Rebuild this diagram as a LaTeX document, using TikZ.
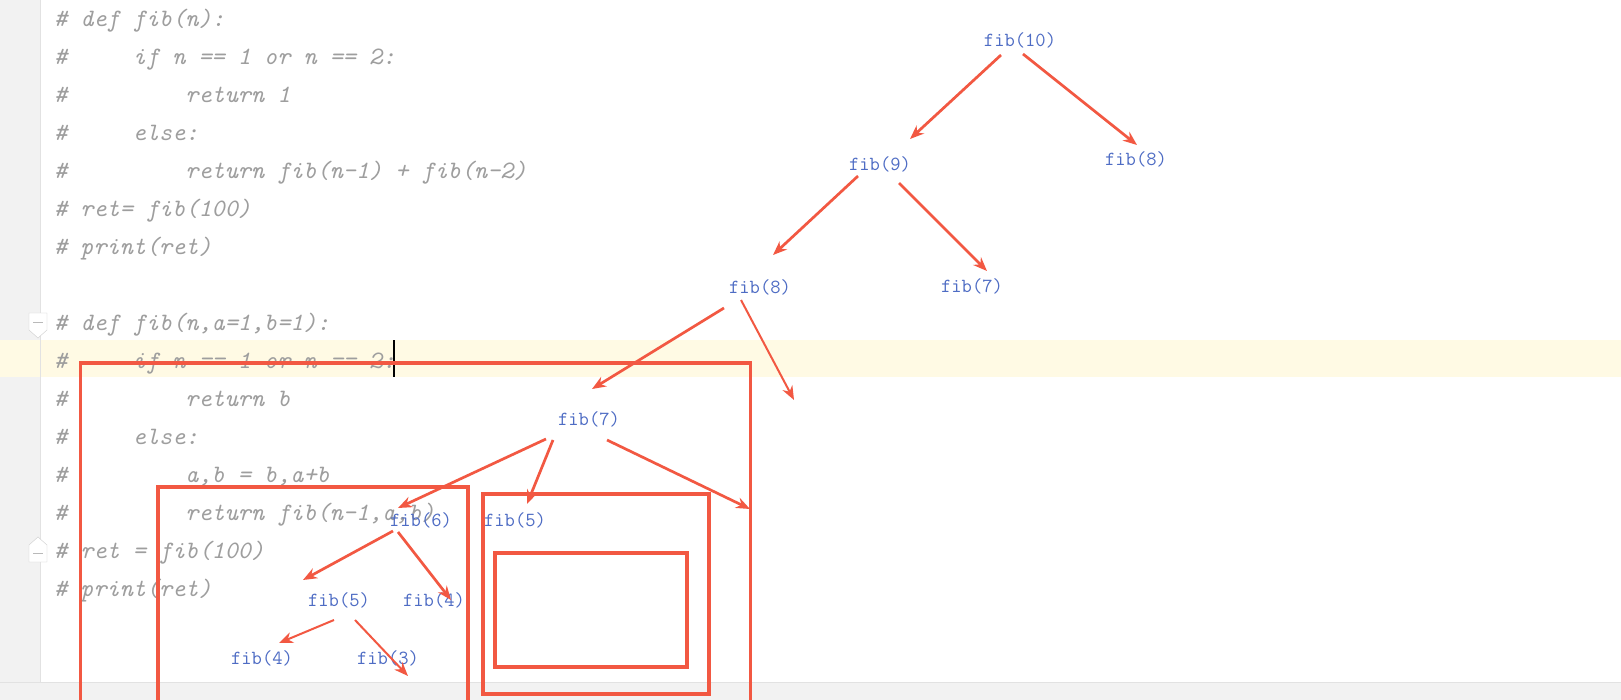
\documentclass[tikz,border=0pt]{standalone}
\usepackage{fontspec}
\usetikzlibrary{arrows.meta}
\definecolor{pen}{RGB}{242,88,66}
\definecolor{lab}{RGB}{78,108,196}
\definecolor{codegray}{RGB}{158,158,158}
\definecolor{gutter}{RGB}{242,242,242}
\definecolor{gutterline}{RGB}{226,226,226}
\definecolor{band}{RGB}{255,250,228}

\begin{document}
\begin{tikzpicture}[x=1pt,y=-1pt,
  code/.style={anchor=mid west,inner sep=0pt,text=codegray,
    font=\fontsize{25}{30}\selectfont\ttfamily\itshape},
  fib node/.style={inner sep=2pt,text=lab,font=\fontsize{20}{23}\selectfont\ttfamily},
  arr/.style={draw=pen,line width=2.7pt,-{Stealth[length=14pt,width=11pt]}},
  thin arr/.style={arr,line width=2pt},
  frame/.style={draw=pen,line width=3.5pt}]

  % editor background
  \useasboundingbox (0,0) rectangle (1621,700);
  \clip (0,0) rectangle (1621,700);
  \fill[white] (0,0) rectangle (1621,700);
  \fill[gutter] (0,0) rectangle (40,682);
  \fill[band] (0,340) rectangle (1621,377);
  \draw[gutterline,line width=1pt] (40,0) -- (40,682);
  \fill[gutter] (0,682) rectangle (1621,700);
  \draw[gutterline] (0,682) -- (1621,682);

  % fold markers
  \draw[gray!40,fill=white] (29,313) -- (47,313) -- (47,330) -- (38,338) -- (29,330) -- cycle;
  \draw[gray!55] (33,322) -- (43,322);
  \draw[gray!40,fill=white] (29,562) -- (47,562) -- (47,545) -- (38,537) -- (29,545) -- cycle;
  \draw[gray!55] (33,553) -- (43,553);

  % code
  \foreach \l in {1,2,3,4,5,6,7,9,10,11,12,13,14,15,16}
    \node[code] (h\l) at (54,{24.5+38*(\l-1)}) {\#};
  \foreach \l/\c/\t in {1/2/{def fib(n):}, 2/6/{if n == 1 or n == 2:},
      3/10/{return 1}, 4/6/{else:}, 5/10/{return fib(n-1) + fib(n-2)},
      6/2/{ret= fib(100)}, 7/2/{print(ret)},
      9/2/{def fib(n,a=1,b=1):}, 10/6/{if n == 1 or n == 2:},
      11/10/{return b}, 12/6/{else:}, 13/10/{a,b = b,a+b},
      14/10/{return fib(n-1,a,b)}, 15/2/{ret = fib(100)}, 16/2/{print(ret)}}
    \node[code] (c\l) at ({54+13.125*\c},{24.5+38*(\l-1)}) {\t};

  % cursor
  \draw[black,line width=2pt] (394,340) -- (394,377);

  % call tree
  \node[fib node] (n10) at (1020,40) {fib(10)};
  \node[fib node] (n9) at (880,164) {fib(9)};
  \node[fib node] (n8r) at (1136,159) {fib(8)};
  \node[fib node] (n8) at (760,287) {fib(8)};
  \node[fib node] (n7r) at (972,286) {fib(7)};
  \node[fib node] (n7) at (589,419) {fib(7)};
  \node[fib node] (n6) at (421,520) {fib(6)};
  \node[fib node] (n5r) at (515,520) {fib(5)};
  \node[fib node] (n5) at (339,600) {fib(5)};
  \node[fib node] (n4r) at (434,600) {fib(4)};
  \node[fib node] (n4) at (262,658) {fib(4)};
  \node[fib node] (n3) at (388,658) {fib(3)};
  \coordinate (e8) at (794,400);
  \coordinate (e7) at (750,509);

  % frames
  \draw[frame] (80.5,705) -- (80.5,363) -- (750.5,363) -- (750.5,705);
  \draw[frame] (158,705) -- (158,487) -- (468,487) -- (468,705);
  \draw[frame] (483,494) rectangle (709,694);
  \draw[frame] (495,553) rectangle (687,667);

  % arrows
  \draw[arr] ([shift={(-19,15)}]n10.center) -- ([shift={(30,-25)}]n9.center);
  \draw[arr] ([shift={(3,14)}]n10.center) -- ([shift={(1,-14)}]n8r.center);
  \draw[arr] ([shift={(-22,12)}]n9.center) -- ([shift={(13,-32)}]n8.center);
  \draw[arr] ([shift={(19,19)}]n9.center) -- ([shift={(15,-15)}]n7r.center);
  \draw[arr] ([shift={(-36,21)}]n8.center) -- ([shift={(3,-30)}]n7.center);
  \draw[thin arr] ([shift={(-19,13)}]n8.center) -- (e8);
  \draw[arr] ([shift={(-43,20)}]n7.center) -- ([shift={(-23,-12)}]n6.center);
  \draw[arr] ([shift={(-36,21)}]n7.center) -- ([shift={(12,-16)}]n5r.center);
  \draw[arr] ([shift={(18,21)}]n7.center) -- (e7);
  \draw[arr] ([shift={(-28,11)}]n6.center) -- ([shift={(-36,-20)}]n5.center);
  \draw[arr] ([shift={(-23,12)}]n6.center) -- ([shift={(17,0)}]n4r.center);
  \draw[thin arr] ([shift={(-5,20)}]n5.center) -- ([shift={(17,-15)}]n4.center);
  \draw[thin arr] ([shift={(16,20)}]n5.center) -- ([shift={(20,18)}]n3.center);
\end{tikzpicture}
\end{document}
